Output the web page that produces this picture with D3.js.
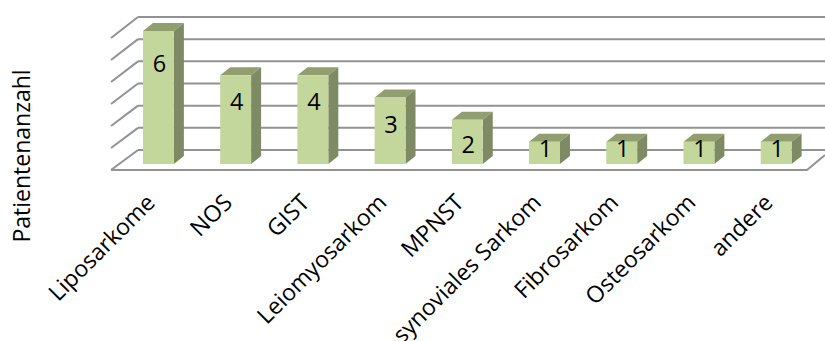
<!DOCTYPE html>
<html><head><meta charset="utf-8">
<script src="https://cdn.jsdelivr.net/npm/d3@7/dist/d3.min.js"></script>
<style>html,body{margin:0;padding:0;background:#fff}svg{display:block}text{font-family:"Open Sans",sans-serif;fill:#000}</style>
</head><body><svg id="c" width="825" height="341"></svg>
<script>
const categories=["Liposarkome","NOS","GIST","Leiomyosarkom","MPNST","synoviales Sarkom","Fibrosarkom","Osteosarkom","andere"];
const values=[6,4,4,3,2,1,1,1,1];
const yTicks=[0,1,2,3,4,5,6];
const axisTitle="Patientenanzahl";
// heights (in axis units on the bar front) at which the value labels are centred
const labelLevels=[4.55,2.83,2.83,1.77,0.9,0.72,0.72,0.72,0.72];

const svg=d3.select("#c");
const x=d3.scaleBand().domain(categories).range([143,791.6]).paddingInner(0.6).paddingOuter(0);
const yFront=d3.scaleLinear().domain([0,6]).range([164,31]);
const yBack=d3.scaleLinear().domain([0,6]).range([150,17]);
const yLeft=d3.scaleLinear().domain([0,6]).range([170,38]);
const dx=10, dy=8;
const grid="#929292";

const g=svg.append("g").attr("fill","none").attr("stroke",grid).attr("stroke-width",2);
g.selectAll("line.b").data(yTicks).join("line").attr("class","b")
 .attr("x1",138).attr("x2",825).attr("y1",d=>yBack(d)).attr("y2",d=>yBack(d));
g.selectAll("line.d").data(yTicks).join("line").attr("class","d")
 .attr("x1",111).attr("x2",138).attr("y1",d=>yLeft(d)).attr("y2",d=>yBack(d));
g.append("path").attr("d",`M111,${yLeft(0)}H807L825,155`);

const bars=svg.selectAll("g.bar").data(categories.map((c,i)=>({c,v:values[i],l:labelLevels[i]}))).join("g").attr("class","bar");
bars.append("path").attr("fill","#919f70").attr("d",d=>{const l=x(d.c),r=l+x.bandwidth(),t=yFront(d.v);
  return `M${l},${t}L${l+dx},${t-dy}H${r+dx}L${r},${t}Z`;});
bars.append("path").attr("fill","#7e8a63").attr("d",d=>{const r=x(d.c)+x.bandwidth(),t=yFront(d.v),b=yFront(0);
  return `M${r},${t}L${r+dx},${t-dy}V${b-dy}L${r},${b}Z`;});
bars.append("rect").attr("fill","#c3d69b").attr("x",d=>x(d.c)).attr("y",d=>yFront(d.v))
 .attr("width",x.bandwidth()).attr("height",d=>yFront(0)-yFront(d.v));
bars.append("text").attr("text-anchor","middle").attr("font-size",23.5)
 .attr("x",d=>x(d.c)+x.bandwidth()/2+1).attr("y",d=>yFront(d.l)+8.5).text(d=>d.v);

svg.selectAll("text.cat").data(categories).join("text").attr("class","cat")
 .attr("text-anchor","end").attr("font-size",23)
 .attr("transform",d=>`translate(${x(d)+x.bandwidth()/2-2},${204}) rotate(-45)`).text(d=>d);

svg.append("text").attr("text-anchor","middle").attr("font-size",23)
 .attr("transform","translate(30,156) rotate(-90)").text(axisTitle);
</script></body></html>
